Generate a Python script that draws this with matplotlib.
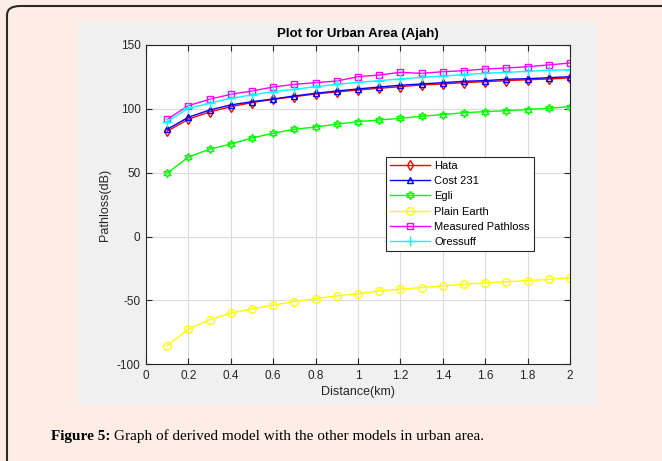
import numpy as np
import matplotlib
matplotlib.use("Agg")
import matplotlib.pyplot as plt
from matplotlib.patches import FancyBboxPatch, Rectangle

# distances (km)
dist = [0.1, 0.2, 0.3, 0.4, 0.5, 0.6, 0.7, 0.8, 0.9, 1.0,
        1.1, 1.2, 1.3, 1.4, 1.5, 1.6, 1.7, 1.8, 1.9, 2.0]

hata = [82.5, 91.9, 97.6, 101.7, 104.9, 107.5, 109.5, 111.7, 113.2, 114.8,
        116.1, 117.4, 118.7, 119.5, 120.5, 121.3, 122.1, 122.8, 123.4, 124.2]
cost231 = [84.0, 93.4, 99.1, 103.1, 105.6, 107.7, 110.1, 112.2, 114.0, 115.6,
           117.1, 118.5, 119.5, 120.5, 121.6, 122.1, 123.2, 123.6, 124.4, 125.2]
egli = [49.6, 62.3, 68.4, 72.5, 77.2, 80.9, 84.0, 85.8, 88.0, 90.0,
        91.3, 92.6, 94.2, 95.5, 97.0, 97.8, 98.6, 99.4, 100.5, 101.7]
plain_earth = [-85.3, -72.5, -65.2, -59.9, -56.6, -53.7, -50.9, -48.7, -46.4, -44.8,
               -42.5, -41.2, -39.9, -38.6, -37.3, -36.2, -35.4, -34.4, -33.6, -32.3]
measured = [91.8, 102.5, 107.5, 111.4, 114.0, 117.1, 119.2, 120.5, 121.8, 125.2,
            126.5, 128.6, 127.8, 129.1, 129.9, 131.2, 132.0, 133.0, 134.4, 135.9]
oressuff = [90.0, 100.5, 104.4, 108.3, 110.9, 113.5, 115.3, 117.4, 119.2, 120.8,
            122.1, 123.4, 124.7, 125.7, 126.8, 127.9, 128.6, 129.4, 130.2, 130.7]

plt.rcParams['font.family'] = ['Liberation Sans', 'DejaVu Sans']
plt.rcParams['axes.unicode_minus'] = False

fig = plt.figure(figsize=(6.62, 4.61), dpi=100)
fig.patch.set_facecolor('#fdede5')

# rounded frame around the figure panel
frame = FancyBboxPatch((7/662, -0.1), 1.1, 0.987 + 0.1, boxstyle="round,pad=0,rounding_size=0.02",
                       transform=fig.transFigure, facecolor='#fdede5', edgecolor='#2a2a2a',
                       linewidth=1.5, zorder=0)
fig.patches.append(frame)
# grey matlab figure background
fig.patches.append(Rectangle((78/662, 1 - 405/461), (597-78)/662, (405-22)/461,
                             transform=fig.transFigure, facecolor='#f0f0f0',
                             edgecolor='none', zorder=1))

ax = fig.add_axes([146/662, 1 - 364.3/461, (570-146)/662, (364.3-45)/461])
ax.set_zorder(2)
ax.set_facecolor('white')

ms = 5
ax.plot(dist, hata, color='#ff0000', marker='d', mfc='none', ms=ms, lw=1, label='Hata')
ax.plot(dist, cost231, color='#0000ff', marker='^', mfc='none', ms=ms, lw=1, label='Cost 231')
ax.plot(dist, egli, color='#00ff00', marker=(6, 1, 0), mfc='none', ms=ms+1, lw=1, label='Egli')
ax.plot(dist, plain_earth, color='#ffff00', marker='o', mfc='none', ms=ms+0.5, lw=1, label='Plain Earth')
ax.plot(dist, measured, color='#ff00ff', marker='s', mfc='none', ms=ms, lw=1, label='Measured Pathloss')
ax.plot(dist, oressuff, color='#00ffff', marker='+', ms=ms+1.5, lw=1, label='Oressuff')

ax.set_xlim(0, 2)
ax.set_ylim(-100, 150)
ax.set_xticks(np.arange(0, 2.01, 0.2))
ax.set_xticklabels(['0', '0.2', '0.4', '0.6', '0.8', '1', '1.2', '1.4', '1.6', '1.8', '2'])
ax.set_yticks([-100, -50, 0, 50, 100, 150])
ax.grid(True, color='#dcdcdc', linewidth=0.8)
ax.set_axisbelow(True)
ax.tick_params(direction='in', top=True, right=True, labelsize=8.5, colors='#262626',
               length=4, width=0.8, pad=4)
for s in ax.spines.values():
    s.set_color('#262626')
    s.set_linewidth(0.8)

ax.set_title('Plot for Urban Area (Ajah)', fontsize=9.5, fontweight='bold', pad=6)
ax.set_xlabel('Distance(km)', fontsize=9, color='#262626', labelpad=3)
ax.set_ylabel('Pathloss(dB)', fontsize=9, color='#262626', labelpad=4)

leg = ax.legend(loc='upper left', bbox_to_anchor=(0.566, 0.650), fontsize=8,
                fancybox=False, framealpha=1, edgecolor='#262626',
                borderpad=0.35, labelspacing=0.48, handlelength=3.6, handletextpad=0.4,
                borderaxespad=0)
leg.get_frame().set_linewidth(0.8)

t1 = fig.text(51/662, 1 - 436/461, 'Figure 5:', fontsize=11, fontweight='bold',
              family='Liberation Serif', va='center', ha='left')
fig.canvas.draw()
bb = t1.get_window_extent()
fig.text(bb.x1/662 + 4/662, 1 - 436/461, 'Graph of derived model with the other models in urban area.',
         fontsize=11, family='Liberation Serif', va='center', ha='left')

fig.savefig('out.png', dpi=100, facecolor=fig.get_facecolor())
